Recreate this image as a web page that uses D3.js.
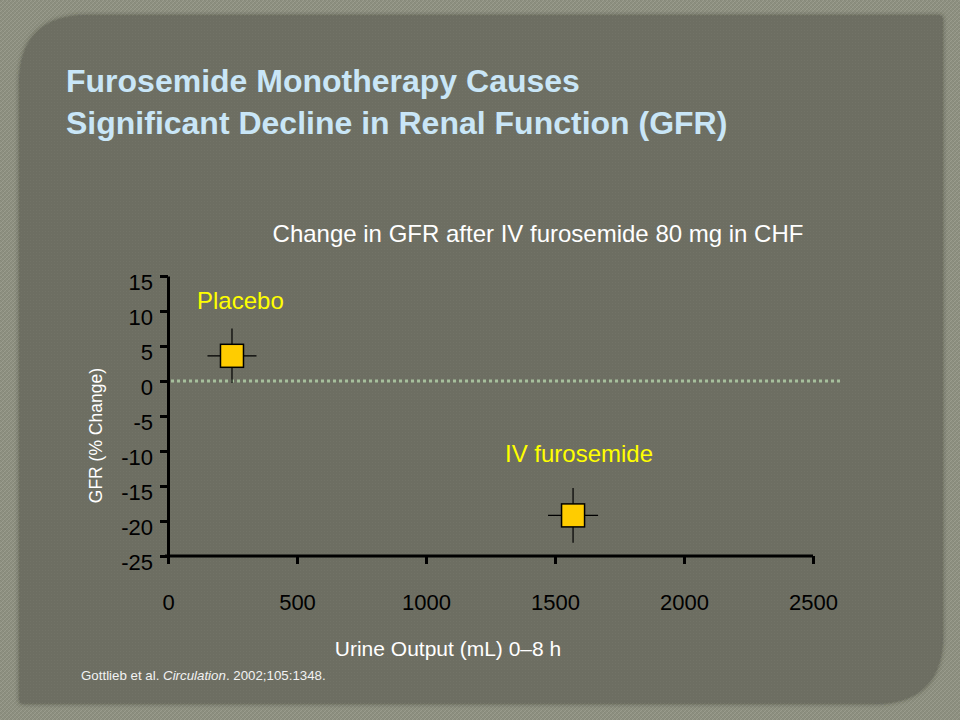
<!DOCTYPE html>
<html>
<head>
<meta charset="utf-8">
<script src="https://cdn.jsdelivr.net/npm/d3@7/dist/d3.min.js"></script>
<style>
  html, body { margin: 0; padding: 0; background: #8d8f80; }
  svg { display: block; }
  text { font-family: "Liberation Sans", Arial, sans-serif; }
</style>
</head>
<body>
<script>
// ---------- data ----------
const groups = ["Placebo", "IV furosemide"];
const urineOutput = [248, 1570];      // mL, 0–8 h
const urineErr = [95, 97];            // ± mL
const gfrChange = [3.6, -19.2];       // % change
const gfrErr = [3.9, 3.9];            // ± %
const xTicks = [0, 500, 1000, 1500, 2000, 2500];
const yTicks = [15, 10, 5, 0, -5, -10, -15, -20, -25];
const titleLines = ["Furosemide Monotherapy Causes", "Significant Decline in Renal Function (GFR)"];
const subtitle = "Change in GFR after IV furosemide 80 mg in CHF";
const xTitle = "Urine Output (mL) 0\u20138 h";
const yTitle = "GFR (% Change)";

const W = 960, H = 720;
const svg = d3.select("body").append("svg").attr("width", W).attr("height", H);
const defs = svg.append("defs");

// textures
const pOut = defs.append("pattern").attr("id", "texOut").attr("width", 4).attr("height", 4)
  .attr("patternUnits", "userSpaceOnUse");
pOut.append("rect").attr("width", 4).attr("height", 4).attr("fill", "#8d8f80");
pOut.append("path").attr("d", "M0,4 L4,0").attr("stroke", "#9a9c8d").attr("stroke-width", 1);
pOut.append("path").attr("d", "M0,0 L4,4").attr("stroke", "#828474").attr("stroke-width", 0.6);

const pIn = defs.append("pattern").attr("id", "texIn").attr("width", 3).attr("height", 3)
  .attr("patternUnits", "userSpaceOnUse");
pIn.append("rect").attr("width", 3).attr("height", 3).attr("fill", "#6d6e62");
pIn.append("rect").attr("width", 1).attr("height", 1).attr("fill", "#727367");

const f = defs.append("filter").attr("id", "shadow").attr("x", "-5%").attr("y", "-5%")
  .attr("width", "110%").attr("height", "110%");
f.append("feDropShadow").attr("dx", 0).attr("dy", 0).attr("stdDeviation", 2.5)
  .attr("flood-color", "#2e2f28").attr("flood-opacity", 0.8);

svg.append("rect").attr("width", W).attr("height", H).attr("fill", "url(#texOut)");

// panel with rounded top-left and bottom-right corners
const px0 = 20, py0 = 16, px1 = 942, py1 = 703, r = 68;
const panelPath = d3.path();
panelPath.moveTo(px0 + r, py0);
panelPath.lineTo(px1, py0);
panelPath.lineTo(px1, py1 - r);
panelPath.quadraticCurveTo(px1, py1, px1 - r, py1);
panelPath.lineTo(px0, py1);
panelPath.lineTo(px0, py0 + r);
panelPath.quadraticCurveTo(px0, py0, px0 + r, py0);
panelPath.closePath();
svg.append("path").attr("d", panelPath.toString()).attr("fill", "#6d6e62").attr("filter", "url(#shadow)");
svg.append("path").attr("d", panelPath.toString()).attr("fill", "url(#texIn)");

// ---------- title ----------
svg.append("g").selectAll("text").data(titleLines).join("text")
  .attr("x", 66).attr("y", (d, i) => 92 + i * 42)
  .attr("fill", "#c9e6f7").attr("font-weight", "bold").attr("font-size", 32)
  .text(d => d);

svg.append("text").attr("x", 538).attr("y", 242).attr("text-anchor", "middle")
  .attr("fill", "#ffffff").attr("font-size", 24).text(subtitle);

// ---------- scales ----------
const x = d3.scaleLinear().domain([0, 2500]).range([168, 813]);
const y = d3.scaleLinear().domain([-25, 15]).range([556, 276]);

// zero reference line
svg.append("line")
  .attr("x1", x(0) + 3).attr("x2", 840).attr("y1", y(0)).attr("y2", y(0))
  .attr("stroke", "#a6bf9c").attr("stroke-width", 3).attr("stroke-dasharray", "3,3");

// y axis
const yAxis = svg.append("g").attr("transform", `translate(${x(0)},0)`)
  .call(d3.axisLeft(y).tickValues(yTicks).tickSize(8).tickSizeOuter(0).tickPadding(7).tickFormat(d => String(d)));
yAxis.select(".domain").attr("stroke", "#000").attr("stroke-width", 3);
yAxis.selectAll(".tick line").attr("stroke", "#000").attr("stroke-width", 3);
yAxis.selectAll(".tick text").attr("fill", "#000").attr("font-size", 22)
  .attr("font-family", "Liberation Sans, Arial, sans-serif").attr("dy", "0.6em");

// x axis
const xAxis = svg.append("g").attr("transform", `translate(0,${y(-25)})`)
  .call(d3.axisBottom(x).tickValues(xTicks).tickSize(8).tickSizeOuter(0).tickPadding(30).tickFormat(d => String(d)));
xAxis.select(".domain").attr("stroke", "#000").attr("stroke-width", 3)
  .attr("d", `M${x(0) - 3},0H${x(2500)}`);
xAxis.selectAll(".tick line").attr("stroke", "#000").attr("stroke-width", 3);
xAxis.selectAll(".tick text").attr("fill", "#000").attr("font-size", 22)
  .attr("font-family", "Liberation Sans, Arial, sans-serif");

// axis titles
svg.append("text").attr("x", 448).attr("y", 656).attr("text-anchor", "middle")
  .attr("fill", "#fff").attr("font-size", 21).text(xTitle);
svg.append("text").attr("transform", `translate(102,${y(-7.8)}) rotate(-90)`)
  .attr("text-anchor", "middle").attr("fill", "#fff").attr("font-size", 17.5).text(yTitle);

// ---------- points with error bars ----------
const pts = groups.map((g, i) => ({ g, x: urineOutput[i], y: gfrChange[i], ex: urineErr[i], ey: gfrErr[i] }));
const gp = svg.append("g");
gp.selectAll("line.h").data(pts).join("line").attr("class", "h")
  .attr("x1", d => x(d.x - d.ex)).attr("x2", d => x(d.x + d.ex))
  .attr("y1", d => y(d.y)).attr("y2", d => y(d.y))
  .attr("stroke", "#000").attr("stroke-width", 1.2);
gp.selectAll("line.v").data(pts).join("line").attr("class", "v")
  .attr("x1", d => x(d.x)).attr("x2", d => x(d.x))
  .attr("y1", d => y(d.y - d.ey)).attr("y2", d => y(d.y + d.ey))
  .attr("stroke", "#000").attr("stroke-width", 1.2);
const sq = 23;
gp.selectAll("rect").data(pts).join("rect")
  .attr("x", d => x(d.x) - sq / 2).attr("y", d => y(d.y) - sq / 2)
  .attr("width", sq).attr("height", sq)
  .attr("fill", "#ffcc00").attr("stroke", "#000").attr("stroke-width", 1.5);

// group labels
const labelPos = [{ x: 197, y: 309 }, { x: 505, y: 462 }];
svg.append("g").selectAll("text").data(groups).join("text")
  .attr("x", (d, i) => labelPos[i].x).attr("y", (d, i) => labelPos[i].y)
  .attr("fill", "#ffff00").attr("font-size", 24).text(d => d);

// footnote
const foot = svg.append("text").attr("x", 81).attr("y", 680).attr("fill", "#f2f2f2").attr("font-size", 13.3);
foot.append("tspan").text("Gottlieb et al. ");
foot.append("tspan").attr("font-style", "italic").text("Circulation");
foot.append("tspan").text(". 2002;105:1348.");
</script>
</body>
</html>
